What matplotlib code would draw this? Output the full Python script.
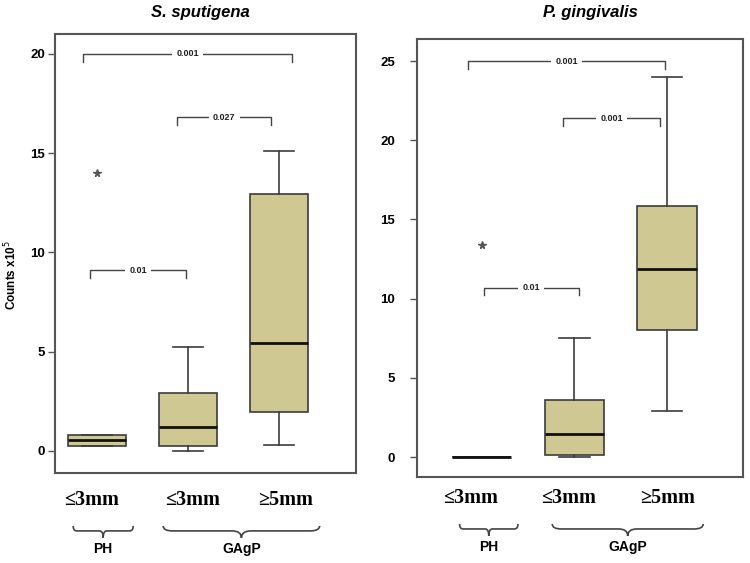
import numpy as np
import matplotlib
matplotlib.use("Agg")
import matplotlib.pyplot as plt
from matplotlib.transforms import blended_transform_factory
from matplotlib.path import Path
from matplotlib.patches import PathPatch

# ---------------- data ----------------
groups = ["≤3mm", "≤3mm", "≥5mm"]
clusters = ["PH", "GAgP"]

# S. sputigena
ss_q1 = [0.27, 0.25, 1.96]
ss_med = [0.55, 1.2, 5.45]
ss_q3 = [0.80, 2.9, 12.95]
ss_lo = [0.27, 0.0, 0.3]
ss_hi = [0.80, 5.25, 15.1]
ss_fliers = [[14.0], [], []]
ss_pvals = ["0.001", "0.027", "0.01"]
ss_pairs = [(1, 3), (2, 3), (1, 2)]
ss_plevels = [20.0, 16.8, 9.1]

# P. gingivalis
pg_q1 = [0.0, 0.1, 8.0]
pg_med = [0.0, 1.45, 11.9]
pg_q3 = [0.0, 3.6, 15.85]
pg_lo = [0.0, 0.0, 2.9]
pg_hi = [0.0, 7.5, 24.0]
pg_fliers = [[13.4], [], []]
pg_pvals = ["0.001", "0.001", "0.01"]
pg_pairs = [(1, 3), (2, 3), (1, 2)]
pg_plevels = [25.0, 21.4, 10.7]

box_color = "#CFC893"
edge = "#3c3c3c"

fig = plt.figure(figsize=(7.5, 5.63), dpi=100)
plt.rcParams['font.family'] = ['Liberation Sans', 'DejaVu Sans']


def brace(ax, x0, x1, y, a, b, tr):
    """curly brace from x0 to x1 (data x); line at axes-y y; ends up by a, tip down by b"""
    xm = (x0 + x1) / 2
    d = (x1 - x0) * 0.06
    verts = [(x0, y + a), (x0, y), (x0 + d, y),
             (xm - d, y),
             (xm, y), (xm, y - b),
             (xm, y), (xm + d, y),
             (x1 - d, y),
             (x1, y), (x1, y + a)]
    codes = [Path.MOVETO, Path.CURVE3, Path.CURVE3,
             Path.LINETO,
             Path.CURVE3, Path.CURVE3,
             Path.CURVE3, Path.CURVE3,
             Path.LINETO,
             Path.CURVE3, Path.CURVE3]
    patch = PathPatch(Path(verts, codes), transform=tr, facecolor="none",
                      edgecolor="#444444", lw=1.2, clip_on=False)
    ax.add_patch(patch)
    return xm


def panel(rect, q1, med, q3, lo, hi, fliers, pvals, pairs, plevels,
          ylim, yticks, pad, xlim, tick_dy, lab_off, brace_spans, hpx,
          lab_px, brace_px, clus_px):
    ax = fig.add_axes(rect)
    stats = []
    for i in range(3):
        stats.append(dict(q1=q1[i], med=med[i], q3=q3[i], whislo=lo[i],
                          whishi=hi[i], fliers=fliers[i]))
    pos = [1, 2, 3]
    ax.bxp(stats, positions=pos, widths=0.64, patch_artist=True,
           boxprops=dict(facecolor=box_color, edgecolor=edge, linewidth=1.2),
           medianprops=dict(color="#111111", linewidth=2.0),
           whiskerprops=dict(color=edge, linewidth=1.2),
           capprops=dict(color=edge, linewidth=1.2),
           capwidths=0.33,
           flierprops=dict(marker="*", markersize=5.5, markerfacecolor="#555555",
                           markeredgecolor="#555555"))
    ax.set_xlim(*xlim)
    ax.set_ylim(*ylim)
    ax.set_yticks(yticks)
    ax.set_yticklabels([str(v) for v in yticks], fontsize=9.5, fontweight="bold")
    ax.tick_params(axis="y", length=5, width=1, color="#555555", pad=pad)
    ax.set_xticks([])
    for s in ax.spines.values():
        s.set_color("#555555")
        s.set_linewidth(1.5)

    # significance brackets
    for (a, b), lab, lev in zip(pairs, pvals, plevels):
        if (a, b) == (1, 3):
            xa, xb = a - 0.15, b + 0.15 if xlim[0] > 0.5 else b - 0.02
        elif (a, b) == (1, 2):
            xa, xb = (a - 0.07, b - 0.02) if xlim[0] > 0.5 else (a + 0.02, b + 0.05)
        else:
            xa, xb = a - 0.12, b - 0.08
        ax.plot([xa, xa, xb, xb], [lev - tick_dy, lev, lev, lev - tick_dy],
                color="#444444", lw=1.0)
        ax.text((xa + xb) / 2, lev, lab, ha="center", va="center",
                fontsize=6.5, fontweight="bold", color="#222222",
                bbox=dict(facecolor="white", edgecolor="none", pad=3))

    # category labels below
    tr = blended_transform_factory(ax.transData, ax.transAxes)
    for p, g, o in zip(pos, groups, lab_off):
        ax.text(p + o, -lab_px / hpx, g, transform=tr, ha="center", va="center",
                fontsize=14.5, fontweight="bold", family="Liberation Serif")
    for (x0, x1), c in zip(brace_spans, clusters):
        xm = brace(ax, x0, x1, -brace_px / hpx, 5 / hpx, 7 / hpx, tr)
        ax.text(xm, -clus_px / hpx, c, transform=tr, ha="center", va="center",
                fontsize=10, fontweight="bold")
    return ax


ax1 = panel([0.0733, 0.160, 0.4014, 0.7796],
            ss_q1, ss_med, ss_q3, ss_lo, ss_hi, ss_fliers,
            ss_pvals, ss_pairs, ss_plevels,
            (-1.11, 21.0), [0, 5, 10, 15, 20], 2, (0.54, 3.85), 0.4,
            [-0.06, 0.05, 0.07], [(0.74, 1.40), (1.73, 3.45)], 439,
            27, 58, 76)
ax1.set_ylabel("Counts x10$^5$", fontsize=8.5, fontweight="bold")
ax1.yaxis.set_label_coords(-0.12, 0.45)

ax2 = panel([0.556, 0.1528, 0.4347, 0.7779],
            pg_q1, pg_med, pg_q3, pg_lo, pg_hi, pg_fliers,
            pg_pvals, pg_pairs, pg_plevels,
            (-1.26, 26.39), [0, 5, 10, 15, 20, 25], 11, (0.30, 3.82), 0.5,
            [-0.12, -0.06, 0.0], [(0.76, 1.39), (1.76, 3.39)], 438,
            21, 52, 70)

fig.text(200 / 750, 1 - 12 / 563, "S. sputigena", ha="center", va="center",
         fontsize=12, fontweight="bold", style="italic")
fig.text(590 / 750, 1 - 12 / 563, "P. gingivalis", ha="center", va="center",
         fontsize=12, fontweight="bold", style="italic")

fig.savefig("out.png", dpi=100)
